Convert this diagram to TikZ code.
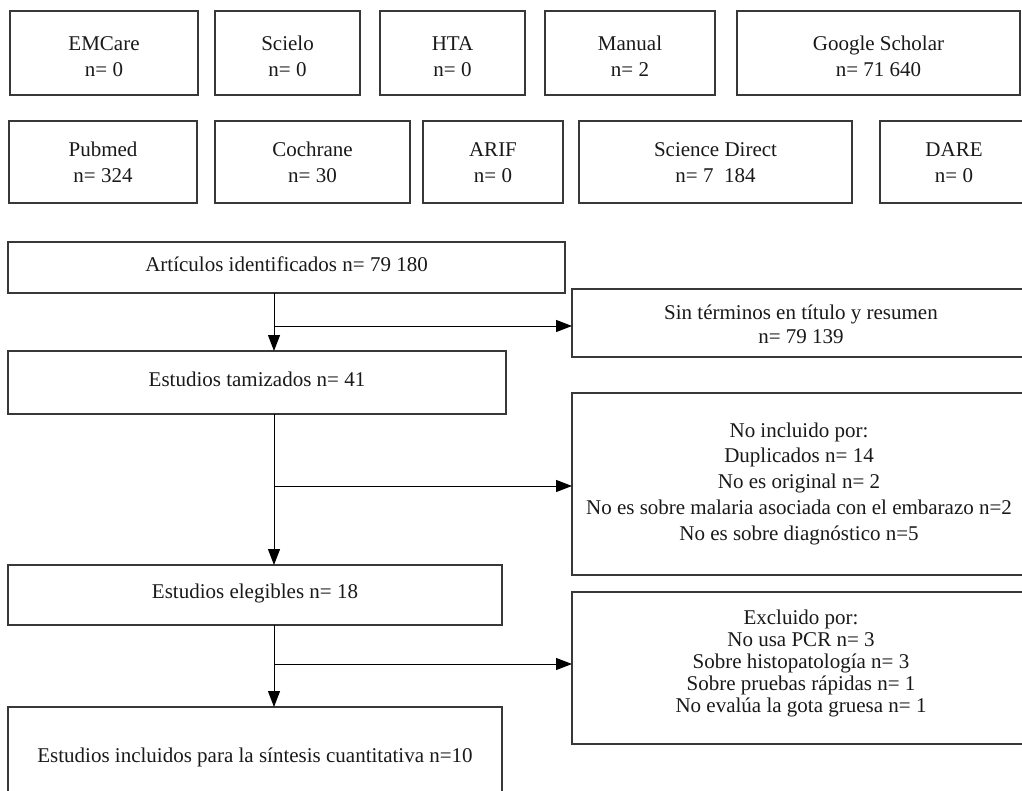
\documentclass[tikz,border=0pt]{standalone}
\usepackage{fontspec}
\setmainfont{Liberation Serif}
\usetikzlibrary{arrows.meta}
\definecolor{boxline}{gray}{0.22}
\tikzset{
  box/.style={draw=boxline, line width=0.7pt, inner sep=0pt, outer sep=0pt, align=center, text=black!90, font=\fontsize{10.5}{13}\selectfont, text depth=0pt},
  srcbox/.style={box, text height=24pt},
  onebox/.style={box, text height=3.5pt},
  arr/.style={line width=0.5pt, -{Triangle[length=8pt,width=6pt]}},
}
\def\flowbox[#1](#2)(#3,#4)(#5,#6)#7{\node[#1, minimum width={(#5-#3)*0.5pt}, minimum height={(#6-#4)*0.5pt}] (#2) at ({(#3+#5)/2},{(#4+#6)/2}) {#7};}

\begin{document}
\begin{tikzpicture}[x=0.5pt,y=-0.5pt]
			%%%%% START %%%%%
			\useasboundingbox (0,0) rectangle (1022,791);
			\clip (0,0) rectangle (1022,791);
			
			% sources, first row
			\flowbox[srcbox](emcare)(10,11)(198,95){EMCare\\n= 0}
			\flowbox[srcbox](scielo)(215,11)(360,95){Scielo\\n= 0}
			\flowbox[srcbox](hta)(380,11)(525,95){HTA\\n= 0}
			\flowbox[srcbox](manual)(545,11)(715,95){Manual\\n= 2}
			\flowbox[srcbox](google)(737,11)(1020,95){Google Scholar\\n= 71 640}
			
			% sources, second row
			\flowbox[srcbox, text height=21pt](pubmed)(9,121)(197,203){Pubmed\\n= 324}
			\flowbox[srcbox, text height=21pt](cochrane)(215,121)(410,203){Cochrane\\n= 30}
			\flowbox[srcbox, text height=21pt](arif)(423,121)(563,203){ARIF\\n= 0}
			\flowbox[srcbox, text height=21pt](scidirect)(579,121)(852,203){Science Direct\\n= 7\ \ 184}
			\flowbox[srcbox, text height=21pt](dare)(880,121)(1028,203){DARE\\n= 0}
			
			% flow
			\flowbox[onebox](articulos)(8,242)(565,293){Artículos identificados n= 79 180}
			\flowbox[box, font=\fontsize{10.5}{12}\selectfont, text height=20pt](sinterminos)(572,289)(1030,357){Sin términos en título y resumen\\n= 79 139}
			\flowbox[onebox](tamizados)(8,351)(506,414){Estudios tamizados n= 41}
			\flowbox[box, font=\fontsize{10.5}{12.85}\selectfont, text height=56pt](noincluido)(572,393)(1026,575){No incluido por:\\Duplicados n= 14\\No es original n= 2\\No es sobre malaria asociada con el embarazo n=2\\No es sobre diagnóstico n=5}
			\flowbox[onebox](elegibles)(8,565)(502,625){Estudios elegibles n= 18}
			\flowbox[box, font=\fontsize{10.5}{11}\selectfont, text height=44pt](excluido)(572,592)(1030,744){Excluido por:\\No usa PCR n= 3\\Sobre histopatología n= 3\\Sobre pruebas rápidas n= 1\\No evalúa la gota gruesa n= 1}
			\flowbox[box, text height=5pt](incluidos)(8,707)(502,807){Estudios incluidos para la síntesis cuantitativa n=10}
			
			% arrows
			\coordinate (trunk) at (274,0);
			\coordinate (s1) at (274,326);
			\coordinate (s2) at (274,486);
			\coordinate (s3) at (274,664);
			
			\draw[arr] (articulos.south -| trunk) -- (tamizados.north -| trunk);
			\draw[arr] (s1) -- (s1 -| sinterminos.west);
			\draw[arr] (tamizados.south -| trunk) -- (elegibles.north -| trunk);
			\draw[arr] (s2) -- (s2 -| noincluido.west);
			\draw[arr] (elegibles.south -| trunk) -- (incluidos.north -| trunk);
			\draw[arr] (s3) -- (s3 -| excluido.west);
			
			%%%%% END %%%%%
\end{tikzpicture}
\end{document}
